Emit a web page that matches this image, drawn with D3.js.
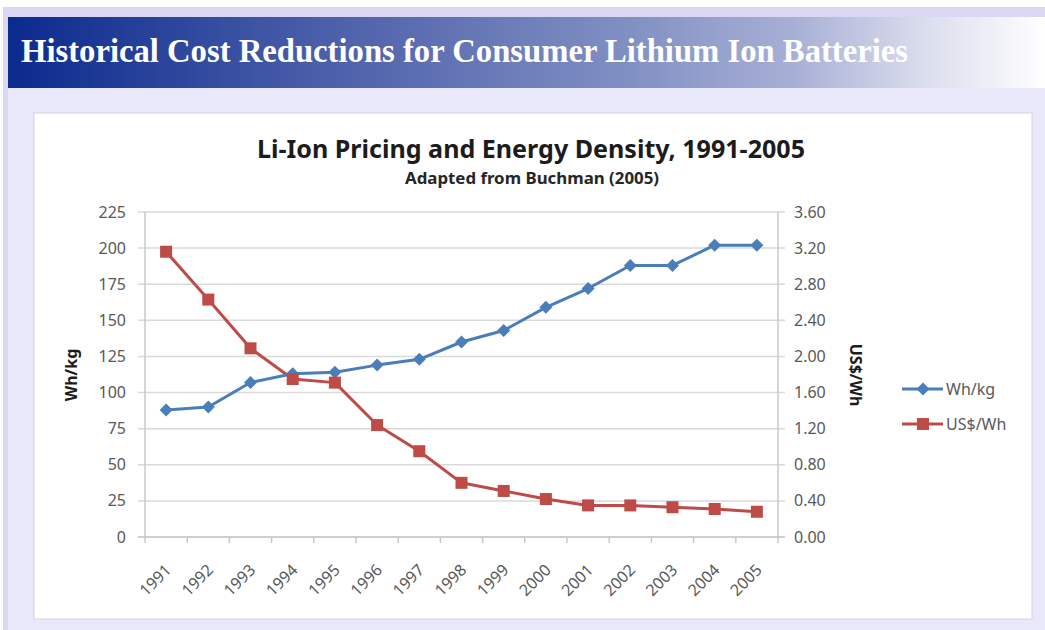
<!DOCTYPE html>
<html>
<head>
<meta charset="utf-8">
<script src="https://cdn.jsdelivr.net/npm/d3@7"></script>
<style>
    body { margin: 0; background: #fff; }
    svg { display: block; }
</style>
</head>
<body>
<div id="chart"></div>
<script>
const years = ["1991", "1992", "1993", "1994", "1995", "1996", "1997", "1998",
               "1999", "2000", "2001", "2002", "2003", "2004", "2005"];
const whPerKg = [88, 90, 107, 113, 114, 119, 123, 135, 143, 159, 172, 188, 188, 202, 202];
const usdPerWh = [3.16, 2.63, 2.09, 1.75, 1.71, 1.24, 0.95, 0.60, 0.51, 0.42, 0.35, 0.35, 0.33, 0.31, 0.28];
const leftTicks = [0, 25, 50, 75, 100, 125, 150, 175, 200, 225];
const rightTicks = [0, 0.4, 0.8, 1.2, 1.6, 2.0, 2.4, 2.8, 3.2, 3.6];
const seriesNames = ["Wh/kg", "US$/Wh"];

const width = 1045;
const height = 630;
const blue = "#4a7ebb";
const red = "#be4b48";
const grey = "#595959";
const font = "'Noto Sans', 'Open Sans', sans-serif";

const svg = d3.select("#chart").append("svg")
    .attr("width", width)
    .attr("height", height)
    .attr("viewBox", [0, 0, width, height]);

// slide frame
svg.append("rect").attr("x", 3).attr("y", 7).attr("width", width - 3).attr("height", height - 7)
    .attr("fill", "#dad7f3");
svg.append("rect").attr("x", 8).attr("y", 88).attr("width", width - 8).attr("height", height - 88)
    .attr("fill", "#e9e7fa");

const grad = svg.append("defs").append("linearGradient")
    .attr("id", "banner")
    .attr("x1", "0%").attr("x2", "100%").attr("y1", "0%").attr("y2", "0%");
[[0, "#0b2a8e"], [0.3, "#4a5ea9"], [0.6, "#8190c3"], [0.76, "#a9b0d6"], [0.88, "#d9dcec"], [1, "#ffffff"]]
    .forEach(([o, c]) => grad.append("stop").attr("offset", o).attr("stop-color", c));

svg.append("rect").attr("x", 8).attr("y", 17).attr("width", width - 8).attr("height", 71)
    .attr("fill", "url(#banner)");

svg.append("text")
    .attr("x", 21).attr("y", 62)
    .attr("font-family", "'Liberation Serif', 'Times New Roman', serif")
    .attr("font-weight", "bold")
    .attr("font-size", 33)
    .attr("fill", "#fff")
    .attr("textLength", 887)
    .attr("lengthAdjust", "spacingAndGlyphs")
    .text("Historical Cost Reductions for Consumer Lithium Ion Batteries");

// chart panel
svg.append("rect").attr("x", 34).attr("y", 113).attr("width", 998).attr("height", 506)
    .attr("fill", "#fff").attr("stroke", "#d4d4dc").attr("stroke-width", 1);

svg.append("text")
    .attr("x", 531).attr("y", 158)
    .attr("text-anchor", "middle")
    .attr("font-family", font).attr("font-weight", "bold").attr("font-size", 25)
    .attr("fill", "#1c1c1c")
    .attr("textLength", 548).attr("lengthAdjust", "spacingAndGlyphs")
    .text("Li-Ion Pricing and Energy Density, 1991-2005");

svg.append("text")
    .attr("x", 532).attr("y", 184)
    .attr("text-anchor", "middle")
    .attr("font-family", font).attr("font-weight", "bold").attr("font-size", 16)
    .attr("fill", "#262626")
    .attr("textLength", 254).attr("lengthAdjust", "spacingAndGlyphs")
    .text("Adapted from Buchman (2005)");

// scales
const plotLeft = 145, plotRight = 778, plotTop = 212, plotBottom = 537;
const x = d3.scaleBand().domain(years).range([plotLeft, plotRight]);
const yL = d3.scaleLinear().domain([0, 225]).range([plotBottom, plotTop]);
const yR = d3.scaleLinear().domain([0, 3.6]).range([plotBottom, plotTop]);
const cx = d => x(d) + x.bandwidth() / 2;

// gridlines + tick marks on both sides
const grid = svg.append("g").attr("stroke", "#d9d9d9").attr("stroke-width", 1.5);
grid.selectAll("line")
    .data(leftTicks)
    .join("line")
    .attr("x1", plotLeft - 7).attr("x2", plotRight + 7)
    .attr("y1", d => yL(d)).attr("y2", d => yL(d));

const axes = svg.append("g").attr("stroke", "#c8c8c8").attr("stroke-width", 1.5);
axes.append("line").attr("x1", plotLeft).attr("x2", plotLeft).attr("y1", plotTop).attr("y2", plotBottom);
axes.append("line").attr("x1", plotRight).attr("x2", plotRight).attr("y1", plotTop).attr("y2", plotBottom + 6);
axes.append("line").attr("x1", plotLeft - 7).attr("x2", plotRight + 7).attr("y1", plotBottom).attr("y2", plotBottom);
axes.selectAll("line.xt")
    .data(years)
    .join("line")
    .attr("class", "xt")
    .attr("x1", d => x(d)).attr("x2", d => x(d))
    .attr("y1", plotBottom).attr("y2", plotBottom + 6);

svg.append("g")
    .attr("font-family", font).attr("font-size", 16).attr("fill", grey)
    .attr("text-anchor", "end")
    .selectAll("text")
    .data(leftTicks)
    .join("text")
    .attr("x", plotLeft - 19)
    .attr("y", d => yL(d) + 5.5)
    .text(d => d);

svg.append("g")
    .attr("font-family", font).attr("font-size", 16).attr("fill", grey)
    .selectAll("text")
    .data(rightTicks)
    .join("text")
    .attr("x", plotRight + 16)
    .attr("y", d => yR(d) + 5.5)
    .text(d => d3.format(".2f")(d));

svg.append("g")
    .attr("font-family", font).attr("font-size", 16).attr("fill", grey)
    .attr("text-anchor", "end")
    .selectAll("text")
    .data(years)
    .join("text")
    .attr("transform", d => `translate(${cx(d) + 6}, ${plotBottom + 34}) rotate(-45)`)
    .text(d => d);

// axis titles
svg.append("text")
    .attr("transform", `translate(77, 375) rotate(-90)`)
    .attr("text-anchor", "middle")
    .attr("font-family", font).attr("font-weight", "bold").attr("font-size", 16)
    .attr("fill", "#1c1c1c")
    .text("Wh/kg");

svg.append("text")
    .attr("transform", `translate(850, 375) rotate(90)`)
    .attr("text-anchor", "middle")
    .attr("font-family", font).attr("font-weight", "bold").attr("font-size", 16)
    .attr("fill", "#1c1c1c")
    .text("US$/Wh");

// series
const lineL = d3.line().x((d, i) => cx(years[i])).y(d => yL(d));
const lineR = d3.line().x((d, i) => cx(years[i])).y(d => yR(d));
const diamond = "M0,-6.5L6.5,0L0,6.5L-6.5,0Z";

svg.append("path")
    .attr("d", lineR(usdPerWh))
    .attr("fill", "none").attr("stroke", red).attr("stroke-width", 3)
    .attr("stroke-linejoin", "round");

svg.append("path")
    .attr("d", lineL(whPerKg))
    .attr("fill", "none").attr("stroke", blue).attr("stroke-width", 3)
    .attr("stroke-linejoin", "round");

svg.append("g")
    .selectAll("path")
    .data(whPerKg)
    .join("path")
    .attr("transform", (d, i) => `translate(${cx(years[i])}, ${yL(d)})`)
    .attr("d", diamond)
    .attr("fill", blue);

svg.append("g")
    .selectAll("rect")
    .data(usdPerWh)
    .join("rect")
    .attr("x", (d, i) => cx(years[i]) - 6)
    .attr("y", d => yR(d) - 6)
    .attr("width", 12).attr("height", 12)
    .attr("fill", red);

// legend
const legend = svg.append("g")
    .selectAll("g")
    .data(seriesNames)
    .join("g")
    .attr("transform", (d, i) => `translate(902, ${389 + i * 35})`);

legend.append("line")
    .attr("x1", 0).attr("x2", 41)
    .attr("stroke", (d, i) => i ? red : blue).attr("stroke-width", 3);

legend.append("path")
    .attr("transform", "translate(21, 0)")
    .attr("d", (d, i) => i ? "M-6,-6H6V6H-6Z" : diamond)
    .attr("fill", (d, i) => i ? red : blue);

legend.append("text")
    .attr("x", 44).attr("y", 5.5)
    .attr("font-family", font).attr("font-size", 16).attr("fill", grey)
    .text(d => d);
</script>
</body>
</html>
